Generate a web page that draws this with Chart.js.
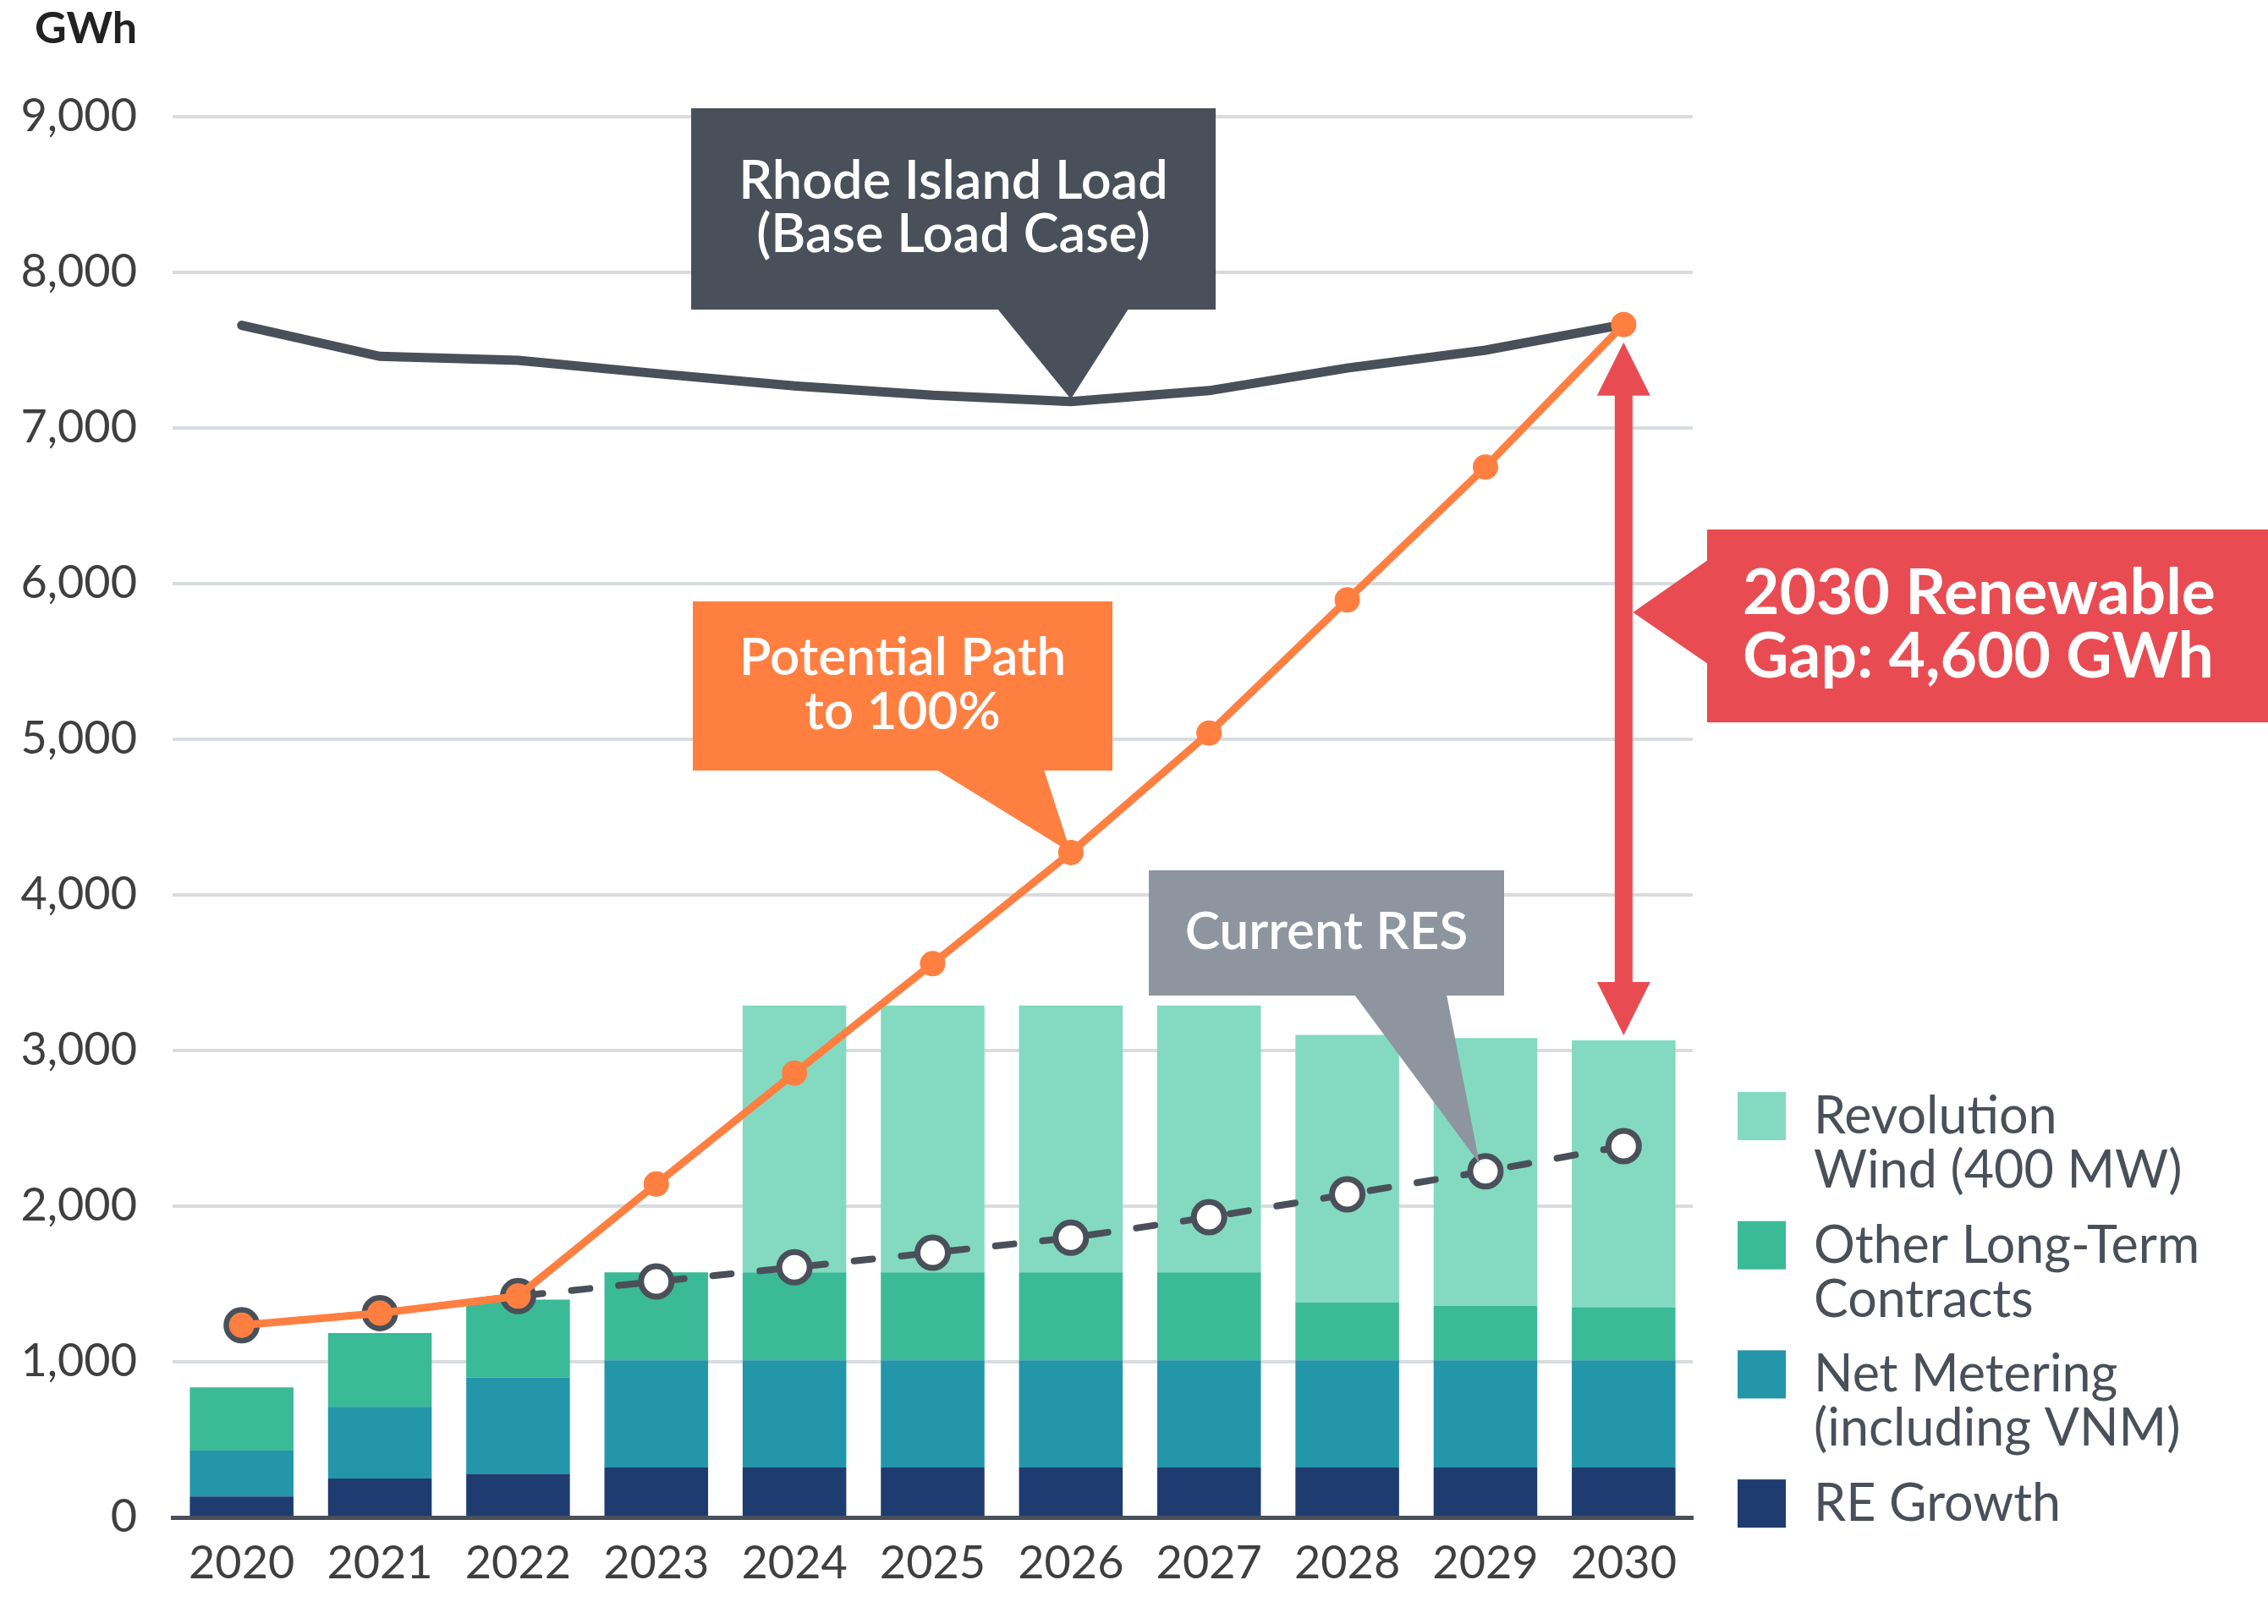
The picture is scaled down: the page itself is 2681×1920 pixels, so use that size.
<!DOCTYPE html>
<html>
<head>
<meta charset="utf-8">
<script src="https://cdn.jsdelivr.net/npm/chart.js@4.4.1/dist/chart.umd.min.js"></script>
<style>
  html, body { margin: 0; padding: 0; background: #fff; }
  #wrap { width: 2681px; height: 1920px; }
</style>
</head>
<body>
<div id="wrap"><canvas id="chart" width="2681" height="1920"></canvas></div>
<script>
// --- data (GWh) ---
const years = ['2020', '2021', '2022', '2023', '2024', '2025', '2026', '2027', '2028', '2029', '2030'];

const reGrowth       = [135, 250, 280, 320, 320, 320, 320, 320, 320, 320, 320];
const netMetering    = [295, 460, 620, 690, 690, 690, 690, 690, 690, 690, 690];
const otherLongTerm  = [405, 475, 500, 565, 565, 565, 565, 565, 370, 350, 340];
const revolutionWind = [null, null, null, null, 1715, 1715, 1715, 1715, 1720, 1720, 1715];

const riLoad     = [7660, 7460, 7435, 7350, 7270, 7210, 7170, 7240, 7385, 7500, 7665];
const pathTo100  = [1235, 1313, 1422, 2142, 2855, 3558, 4272, 5040, 5895, 6749, 7665];
const currentRES = [1235, 1313, 1422, 1516, 1607, 1701, 1797, 1929, 2076, 2224, 2386];

const yTicks = [0, 1000, 2000, 3000, 4000, 5000, 6000, 7000, 8000, 9000];

const legendLabels = {
  rw:  ['Revolution', 'Wind (400 MW)'],
  olt: ['Other Long-Term', 'Contracts'],
  nm:  ['Net Metering', '(including VNM)'],
  re:  ['RE Growth']
};

const C = {
  re: '#1e3c6f',
  nm: '#2396aa',
  olt: '#3aba96',
  rw: '#83dac1',
  orange: '#ff7f41',
  dark: '#4a5059',
  red: '#e84c52',
  gray: '#8e959e',
  grid: '#d9dcdf',
  tick: '#3f3f3f'
};

const FONT = 'Lato, "Noto Sans", sans-serif';

// legend + annotations drawn on the canvas
const extrasPlugin = {
  id: 'extras',
  afterDatasetsDraw(chart) {
    const ctx = chart.ctx;
    const xs = chart.scales.x, ys = chart.scales.y;

    function callout(box, base, tip, color, lines, font, lineH, textX, firstBase, align) {
      ctx.save();
      ctx.fillStyle = color;
      ctx.beginPath();
      ctx.rect(box.x, box.y, box.w, box.h);
      ctx.fill();
      ctx.beginPath();
      ctx.moveTo(base[0].x, base[0].y);
      ctx.lineTo(tip.x, tip.y);
      ctx.lineTo(base[1].x, base[1].y);
      ctx.closePath();
      ctx.fill();
      ctx.fillStyle = '#fff';
      ctx.font = font;
      ctx.textAlign = align;
      ctx.textBaseline = 'alphabetic';
      lines.forEach((t, i) => ctx.fillText(t, textX, firstBase + i * lineH));
      ctx.restore();
    }

    // Rhode Island Load
    const i26 = 6;
    const loadTip = { x: xs.getPixelForValue(i26), y: ys.getPixelForValue(riLoad[i26]) - 3 };
    callout({ x: 817, y: 128, w: 620, h: 238 },
      [{ x: 1179, y: 365 }, { x: 1334, y: 365 }], loadTip, C.dark,
      ['Rhode Island Load', '(Base Load Case)'], '600 63px ' + FONT, 63, 1127, 235, 'center');

    // Potential Path to 100%
    const pathTip = { x: xs.getPixelForValue(i26), y: ys.getPixelForValue(pathTo100[i26]) };
    callout({ x: 819, y: 711, w: 496, h: 200 },
      [{ x: 1107, y: 910 }, { x: 1234, y: 910 }], pathTip, C.orange,
      ['Potential Path', 'to 100%'], '600 62px ' + FONT, 64, 1067, 798, 'center');

    // Current RES
    const i29 = 9;
    const resTip = { x: xs.getPixelForValue(i29) - 7, y: ys.getPixelForValue(currentRES[i29]) - 9 };
    callout({ x: 1358, y: 1029, w: 420, h: 148 },
      [{ x: 1601, y: 1176 }, { x: 1710, y: 1176 }], resTip, C.gray,
      ['Current RES'], '600 62px ' + FONT, 60, 1568, 1122, 'center');

    // red double arrow: gap between load and RES stack in 2030
    const i30 = 10;
    const ax = xs.getPixelForValue(i30);
    const stackTop = reGrowth[i30] + netMetering[i30] + otherLongTerm[i30] + revolutionWind[i30];
    const topTip = ys.getPixelForValue(pathTo100[i30]) + 21;
    const botTip = ys.getPixelForValue(stackTop) - 6;
    const head = 63, half = 31.5, shaft = 10.5;
    ctx.save();
    ctx.fillStyle = C.red;
    ctx.fillRect(ax - shaft, topTip + head - 1, shaft * 2, botTip - topTip - 2 * head + 2);
    ctx.beginPath();
    ctx.moveTo(ax, topTip);
    ctx.lineTo(ax + half, topTip + head);
    ctx.lineTo(ax - half, topTip + head);
    ctx.closePath();
    ctx.fill();
    ctx.beginPath();
    ctx.moveTo(ax, botTip);
    ctx.lineTo(ax + half, botTip - head);
    ctx.lineTo(ax - half, botTip - head);
    ctx.closePath();
    ctx.fill();
    ctx.restore();

    // red gap callout
    callout({ x: 2018, y: 626, w: 700, h: 228 },
      [{ x: 2019, y: 662 }, { x: 2019, y: 785 }], { x: ax + 11, y: 724 }, C.red,
      ['2030 Renewable', 'Gap: 4,600 GWh'], 'bold 75px ' + FONT, 75, 2060, 726, 'left');

    // unit label
    ctx.save();
    ctx.fillStyle = '#222';
    ctx.font = 'bold 52px ' + FONT;
    ctx.textAlign = 'right';
    ctx.textBaseline = 'alphabetic';
    ctx.fillText('GWh', 162, 51);
    ctx.restore();

    // legend (top to bottom: reverse stacking order)
    const entries = [
      { c: C.rw, t: legendLabels.rw },
      { c: C.olt, t: legendLabels.olt },
      { c: C.nm, t: legendLabels.nm },
      { c: C.re, t: legendLabels.re }
    ];
    ctx.save();
    ctx.font = '61px ' + FONT;
    ctx.textAlign = 'left';
    ctx.textBaseline = 'alphabetic';
    entries.forEach((e, k) => {
      const top = 1291 + k * 152.7;
      ctx.fillStyle = e.c;
      ctx.fillRect(2054, top, 57, 57);
      ctx.fillStyle = C.dark;
      e.t.forEach((s, j) => ctx.fillText(s, 2144, top + 49 + j * 64));
    });
    ctx.restore();
  }
};

const barDefaults = { stack: 'res', barPercentage: 0.75, categoryPercentage: 1.0, borderWidth: 0, order: 10 };

new Chart(document.getElementById('chart'), {
  type: 'bar',
  data: {
    labels: years,
    datasets: [
      { ...barDefaults, label: legendLabels.re.join(' '), data: reGrowth, backgroundColor: C.re },
      { ...barDefaults, label: legendLabels.nm.join(' '), data: netMetering, backgroundColor: C.nm },
      { ...barDefaults, label: legendLabels.olt.join(' '), data: otherLongTerm, backgroundColor: C.olt },
      { ...barDefaults, label: legendLabels.rw.join(' '), data: revolutionWind, backgroundColor: C.rw },
      {
        type: 'line', label: 'Current RES', stack: 'cur', data: currentRES, order: 3,
        borderColor: C.dark, borderWidth: 8, borderDash: [22, 34], borderCapStyle: 'round',
        pointRadius: 18, pointBorderWidth: 7, pointBackgroundColor: '#fff', pointBorderColor: C.dark,
        tension: 0, fill: false
      },
      {
        type: 'line', label: 'Rhode Island Load (Base Load Case)', stack: 'load', data: riLoad, order: 2,
        borderColor: C.dark, borderWidth: 11, pointRadius: 0, borderCapStyle: 'round',
        tension: 0, fill: false
      },
      {
        type: 'line', label: 'Potential Path to 100%', stack: 'path', data: pathTo100, order: 1,
        borderColor: C.orange, borderWidth: 9, pointRadius: 15, pointBorderWidth: 0,
        pointBackgroundColor: C.orange, tension: 0, fill: false
      }
    ]
  },
  options: {
    responsive: false,
    animation: false,
    devicePixelRatio: 1,
    layout: { padding: { top: 138, right: 680, left: 0, bottom: 0 } },
    plugins: {
      legend: { display: false },
      tooltip: { enabled: false }
    },
    scales: {
      x: {
        stacked: true,
        grid: { display: false, drawTicks: false },
        border: { display: true, color: C.dark, width: 5 },
        ticks: { color: C.tick, font: { family: FONT, size: 54 }, padding: 22, maxRotation: 0 },
        afterFit: (s) => { s.height = 1920 - 1794; }
      },
      y: {
        stacked: true,
        min: yTicks[0],
        max: yTicks[yTicks.length - 1],
        afterBuildTicks: (s) => { s.ticks = yTicks.map(v => ({ value: v })); },
        grid: { color: C.grid, lineWidth: 4, drawTicks: false },
        border: { display: false },
        ticks: {
          color: C.tick, font: { family: FONT, size: 54 }, padding: 42,
          callback: (v) => Number(v).toLocaleString('en-US')
        },
        afterFit: (s) => { s.width = 204; }
      }
    }
  },
  plugins: [extrasPlugin]
});
</script>
</body>
</html>
